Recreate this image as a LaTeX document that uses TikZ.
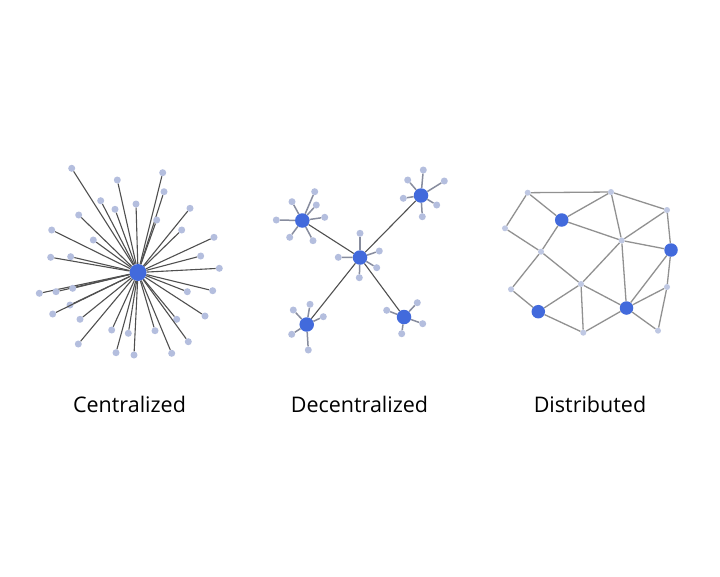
\documentclass[tikz,border=0pt]{standalone}
\usepackage{fontspec}
\setmainfont{Open Sans}
\definecolor{hubblue}{RGB}{66,106,220}
\definecolor{leafblue}{RGB}{180,190,222}
\definecolor{linkgray}{RGB}{80,80,80}
\definecolor{spokegray}{RGB}{135,140,158}
\definecolor{meshgray}{RGB}{145,145,145}
\begin{document}
\begin{tikzpicture}[x=1pt,y=-1pt,
    hub/.style={circle,fill=hubblue,inner sep=0pt,minimum size=17pt},
    midhub/.style={circle,fill=hubblue,inner sep=0pt,minimum size=14.5pt},
    meshhub/.style={circle,fill=hubblue,inner sep=0pt,minimum size=13.5pt},
    leaf/.style={circle,fill=leafblue,inner sep=0pt,minimum size=7pt},
    dot/.style={circle,fill=leafblue!85!white,inner sep=0pt,minimum size=6pt},
    spoke/.style={draw=linkgray,line width=1.1pt},
    twig/.style={draw=spokegray,line width=1.5pt},
    mesh/.style={draw=meshgray,line width=1.3pt},
    caption/.style={font=\fontsize{21.5}{26}\selectfont,text=black}]
  \fill[white] (0,0) rectangle (720,576);
  \useasboundingbox (0,0) rectangle (720,576);

  % centralized
  \node [hub] (c0) at (138,272.5) {};
  \foreach \x/\y [count=\i] in {71.7/168.3, 117.3/180, 162.7/172.7, 164/191.7, 100.7/200.7,
      115/209.3, 136/204, 78.7/215, 190/208.3, 156.7/220, 51.7/230, 181.7/230,
      93.3/240, 214/237.3, 50.7/257.3, 70.7/256.7, 200.7/256, 219.3/268.3,
      39.3/293.3, 56/291.7, 72.7/288.3, 212.7/290.7, 187.3/291.7, 70/305,
      52.7/314, 205/316, 80/319.3, 176.7/319.3, 111.7/330, 128.3/333.3,
      155/330.7, 188.3/341.7, 78.3/344, 116/352.7, 134/355, 171.7/353.3} {
    \node [leaf] (c\i) at (\x,\y) {};
    \draw [spoke] (c0) -- (c\i);
  }

  % decentralized
  \node [midhub] (dc) at (360,257.5) {};
  \node [midhub] (dtl) at (302.3,220.5) {};
  \node [midhub] (dtr) at (421,195.5) {};
  \node [midhub] (dbl) at (306.7,324.5) {};
  \node [midhub] (dbr) at (404,317) {};
  \foreach \h in {dtl,dtr,dbl,dbr}
    \draw [spoke] (dc) -- (\h);
  \foreach \h/\x/\y [count=\i] in {dc/360/233.3, dc/379.3/251, dc/338.3/257.3, dc/376.7/267.7, dc/359.3/277.7,
      dtl/314.7/191.7, dtl/292/201.7, dtl/316.3/205, dtl/276.3/220, dtl/324.7/217.3, dtl/289.7/237.3, dtl/313/240.7,
      dtr/423.3/170, dtr/407.7/180, dtr/444.3/181, dtr/403.3/198.3, dtr/436.7/205, dtr/422.3/216.7,
      dbl/310/304.3, dbl/293.3/310, dbl/323.3/316.7, dbl/291.7/334.3, dbl/308.3/350,
      dbr/417.3/302.7, dbr/386.7/310.3, dbr/422.7/323.7, dbr/401.7/333.7} {
    \node [leaf] (d\i) at (\x,\y) {};
    \draw [twig] (\h) -- (d\i);
  }

  % distributed
  \foreach \n/\x/\y in {a/527.7/192.7, b/611/192, c/667/210, e/505/228.3, f/621.7/240.5,
      h/541/251.7, i/667/287, j/511/289.3, k/581/284, n/583.3/332.7, o/658/330.7}
    \node [dot] (\n) at (\x,\y) {};
  \foreach \n/\x/\y in {d/561.7/220, g/671/250, l/538.3/311.7, m/626.5/308}
    \node [meshhub] (\n) at (\x,\y) {};
  \foreach \u/\v in {a/b, a/d, a/e, b/d, b/c, b/f, c/f, c/g, d/f, f/g, f/k, f/m, g/i, g/m,
      i/m, i/o, m/o, m/n, k/m, k/n, l/k, l/n, j/l, h/j, h/k, d/h, e/h}
    \draw [mesh] (\u) -- (\v);

  \node [caption] (capc) at (129.5,404) {Centralized};
  \node [caption] (capd) at (359.5,404) {Decentralized};
  \node [caption] (capx) at (590,404) {Distributed};
\end{tikzpicture}
\end{document}
